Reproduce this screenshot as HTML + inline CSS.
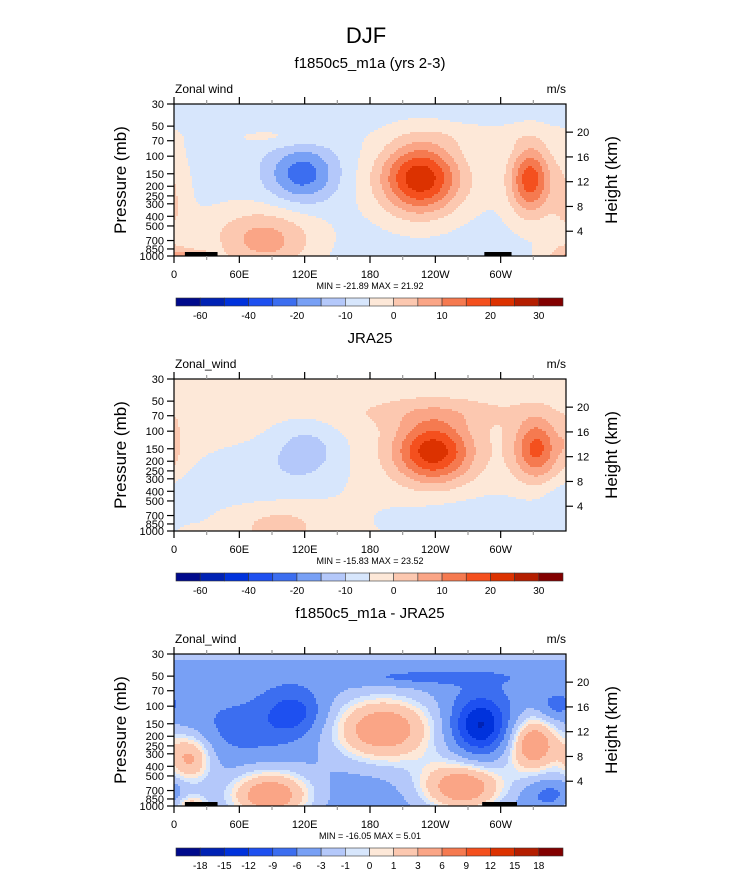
<!DOCTYPE html>
<html><head><meta charset="utf-8">
<style>
body{margin:0;background:#fff;}
svg{display:block;font-family:"Liberation Sans",sans-serif;}
</style></head>
<body>
<svg id="fig" width="733" height="888" viewBox="0 0 733 888" xmlns="http://www.w3.org/2000/svg">
<text x="366" y="43" font-size="22" text-anchor="middle">DJF</text>
</svg>
<script>
// ---- data ----
const colors = ["#000a8c","#0022b4","#0032dc","#1e50f0","#3c6ef0","#78a0f5","#b4c8fa","#d7e6fc","#fde8d8","#fcc8b0","#faa586","#f57a50","#f4501e","#dc3200","#b41e00","#820000"];
const levelsAbs = [-60,-50,-40,-30,-20,-15,-10,-5,0,5,10,15,20,25,30];
const levelLabelsAbs = ["-60","","-40","","-20","","-10","","0","","10","","20","","30"];
const levelsDiff = [-18,-15,-12,-9,-6,-3,-1,0,1,3,6,9,12,15,18];
const levelLabelsDiff = ["-18","-15","-12","-9","-6","-3","-1","0","1","3","6","9","12","15","18"];
const pressureTicks = [30,50,70,100,150,200,250,300,400,500,700,850,1000];
const heightTicks = [4,8,12,16,20];
const lonTicks = [0,60,120,180,240,300];
const lonLabels = ["0","60E","120E","180","120W","60W"];
// blobs: [lon, pressure, amplitude, sigmaLon(deg), sigmaLnP]
const base1 = -7;
const blobs1 = [
 [226,165,27,25,0.58],[230,180,4,45,0.6],[327,170,22,13,0.55],[335,200,3,25,0.8],
 [118,150,-16,22,0.45],
 [85,750,11,30,0.5],[70,550,4,45,0.45],[100,65,3.5,35,0.17],[280,62,3,50,0.2],
 [0,300,5,10,0.9],[15,1000,8,15,0.12],[355,1000,5,15,0.2]
];
const base2 = -3;
const blobs2 = [
 [238,160,26.5,25,0.5],[333,150,20,15,0.5],[240,65,5,60,0.25],
 [122,150,-8,22,0.45],[80,300,-5,50,0.6],[280,800,-5,70,0.5],[360,500,-4,15,0.3],
 [95,850,6,30,0.35],[0,130,4,5,0.4],[20,1000,3,10,0.1]
];
const base3 = -5;
const blobs3 = [
 [180,30,3,1000,0.15],[230,52,-3,50,0.12],
 [110,115,-6,18,0.35],[70,170,-2.5,35,0.4],[192,170,10,38,0.6],
 [281,155,-11,18,0.45],[330,240,10,18,0.5],[88,780,10,30,0.45],
 [15,330,8,15,0.45],[15,1000,6,12,0.2],[265,650,10,30,0.45],
 [345,750,-3,15,0.2],[350,100,-3,10,0.2]
];
const panelTitles = ["f1850c5_m1a (yrs 2-3)","JRA25","f1850c5_m1a - JRA25"];
const leftTitles = ["Zonal wind","Zonal_wind","Zonal_wind"];
const minmax = ["MIN = -21.89  MAX =  21.92","MIN = -15.83  MAX =  23.52","MIN = -16.05  MAX =   5.01"];
const topo = [[[10,40],[285,310]],[],[[10,40],[283,315]]];

// ---- drawing ----
const NS="http://www.w3.org/2000/svg";
const svg=document.getElementById('fig');
const X0=174,W=392,H=152;
function xOf(lon){return X0+lon/360*W;}
function yOf(top,p){return top+Math.log(p/30)/Math.log(1000/30)*H;}
function mk(tag,attrs,parent){const e=document.createElementNS(NS,tag);for(const k in attrs)e.setAttribute(k,attrs[k]);(parent||svg).appendChild(e);return e;}
function txt(x,y,s,size,anchor,parent){const t=mk('text',{x:x,y:y,'font-size':size,'text-anchor':anchor||'start'},parent);t.textContent=s;return t;}
function field(base,blobs,lon,p){let v=base;const lp=Math.log(p);for(const b of blobs){let d=Math.abs(lon-b[0]);if(d>180)d=360-d;const r=(d*d)/(2*b[3]*b[3])+Math.pow(lp-Math.log(b[1]),2)/(2*b[4]*b[4]);v+=b[2]*Math.exp(-r);}return v;}
function colorIdx(v,levels){let i=0;while(i<levels.length&&v>=levels[i])i++;return i;}

function drawPanel(k,top,base,blobs,levels,labels){
 const g=mk('g',{});
 
 
 const tt=txt(370,top-36,panelTitles[k],15,'middle',g);
 
 const lt=txt(175,top-11,leftTitles[k],12,'start',g);
 
 const ut=txt(566,top-11,'m/s',12,'end',g);
 
 const cg=mk('g',{},g);
 
 
 const step=2;
 for(let y=0;y<H;y+=step){
  const p=30*Math.exp((y+step/2)/H*Math.log(1000/30));
  let runStart=0,runC=-1;
  for(let x=0;x<=W;x+=step){
   let c=-2;
   if(x<W){const lon=(x+step/2)/W*360;c=colorIdx(field(base,blobs,lon,p),levels);}
   if(c!==runC){
    if(runC>=0){mk('rect',{x:X0+runStart,y:top+y,width:x-runStart+0.5,height:step+0.5,fill:colors[runC]},cg);}
    runStart=x;runC=c;
   }
  }
 }
 for(const t of topo[k]){
  const r=mk('rect',{x:xOf(t[0]),y:top+H-4,width:xOf(t[1])-xOf(t[0]),height:4,fill:'#000'},g);
  
 }
 const fr=mk('rect',{x:X0,y:top,width:W,height:H,fill:'none',stroke:'#000','stroke-width':1.2},g);
 
 for(let lon=0;lon<360;lon+=30){
  const x=xOf(lon),maj=lon%60===0;
  mk('line',{x1:x,x2:x,y1:top+H,y2:top+H+(maj?7:4),stroke:maj?'#000':'#999','stroke-width':1.2},g);
  mk('line',{x1:x,x2:x,y1:top,y2:top-(maj?7:4),stroke:maj?'#000':'#999','stroke-width':1.2},g);
 }
 lonTicks.forEach((lon,i)=>{const t=txt(xOf(lon),top+174,lonLabels[i],11,'middle',g);});
 pressureTicks.forEach(p=>{const y=yOf(top,p);mk('line',{x1:X0-7,x2:X0,y1:y,y2:y,stroke:'#000','stroke-width':1.2},g);
  const t=txt(X0-10,y+4,String(p),11,'end',g);});
 heightTicks.forEach(h=>{const p=1000*Math.exp(-h/7);const y=yOf(top,p);mk('line',{x1:X0+W,x2:X0+W+7,y1:y,y2:y,stroke:'#000','stroke-width':1.2},g);
  const t=txt(X0+W+11,y+4,String(h),11,'start',g);});
 const ya=txt(0,0,'Pressure (mb)',17,'middle',g);ya.setAttribute('transform','translate(126,'+(top+H/2)+') rotate(-90)');
 
 const ha=txt(0,0,'Height (km)',17,'middle',g);ha.setAttribute('transform','translate(617,'+(top+H/2)+') rotate(-90)');
 
 const mm=txt(370,top+185,minmax[k],9,'middle',g);
 const cb=mk('g',{},g);
 
 
 const cx0=176,cw=387/16,cy=top+194;
 colors.forEach((c,i)=>{mk('rect',{x:cx0+i*cw,y:cy,width:cw,height:8,fill:c,stroke:'#333','stroke-width':0.6},cb);});
 labels.forEach((s,i)=>{if(s){const t=txt(cx0+(i+1)*cw,cy+21,s,10,'middle',cb);}});
}
drawPanel(0,104,base1,blobs1,levelsAbs,levelLabelsAbs);
drawPanel(1,379,base2,blobs2,levelsAbs,levelLabelsAbs);
drawPanel(2,654,base3,blobs3,levelsDiff,levelLabelsDiff);
</script>
</body></html>
